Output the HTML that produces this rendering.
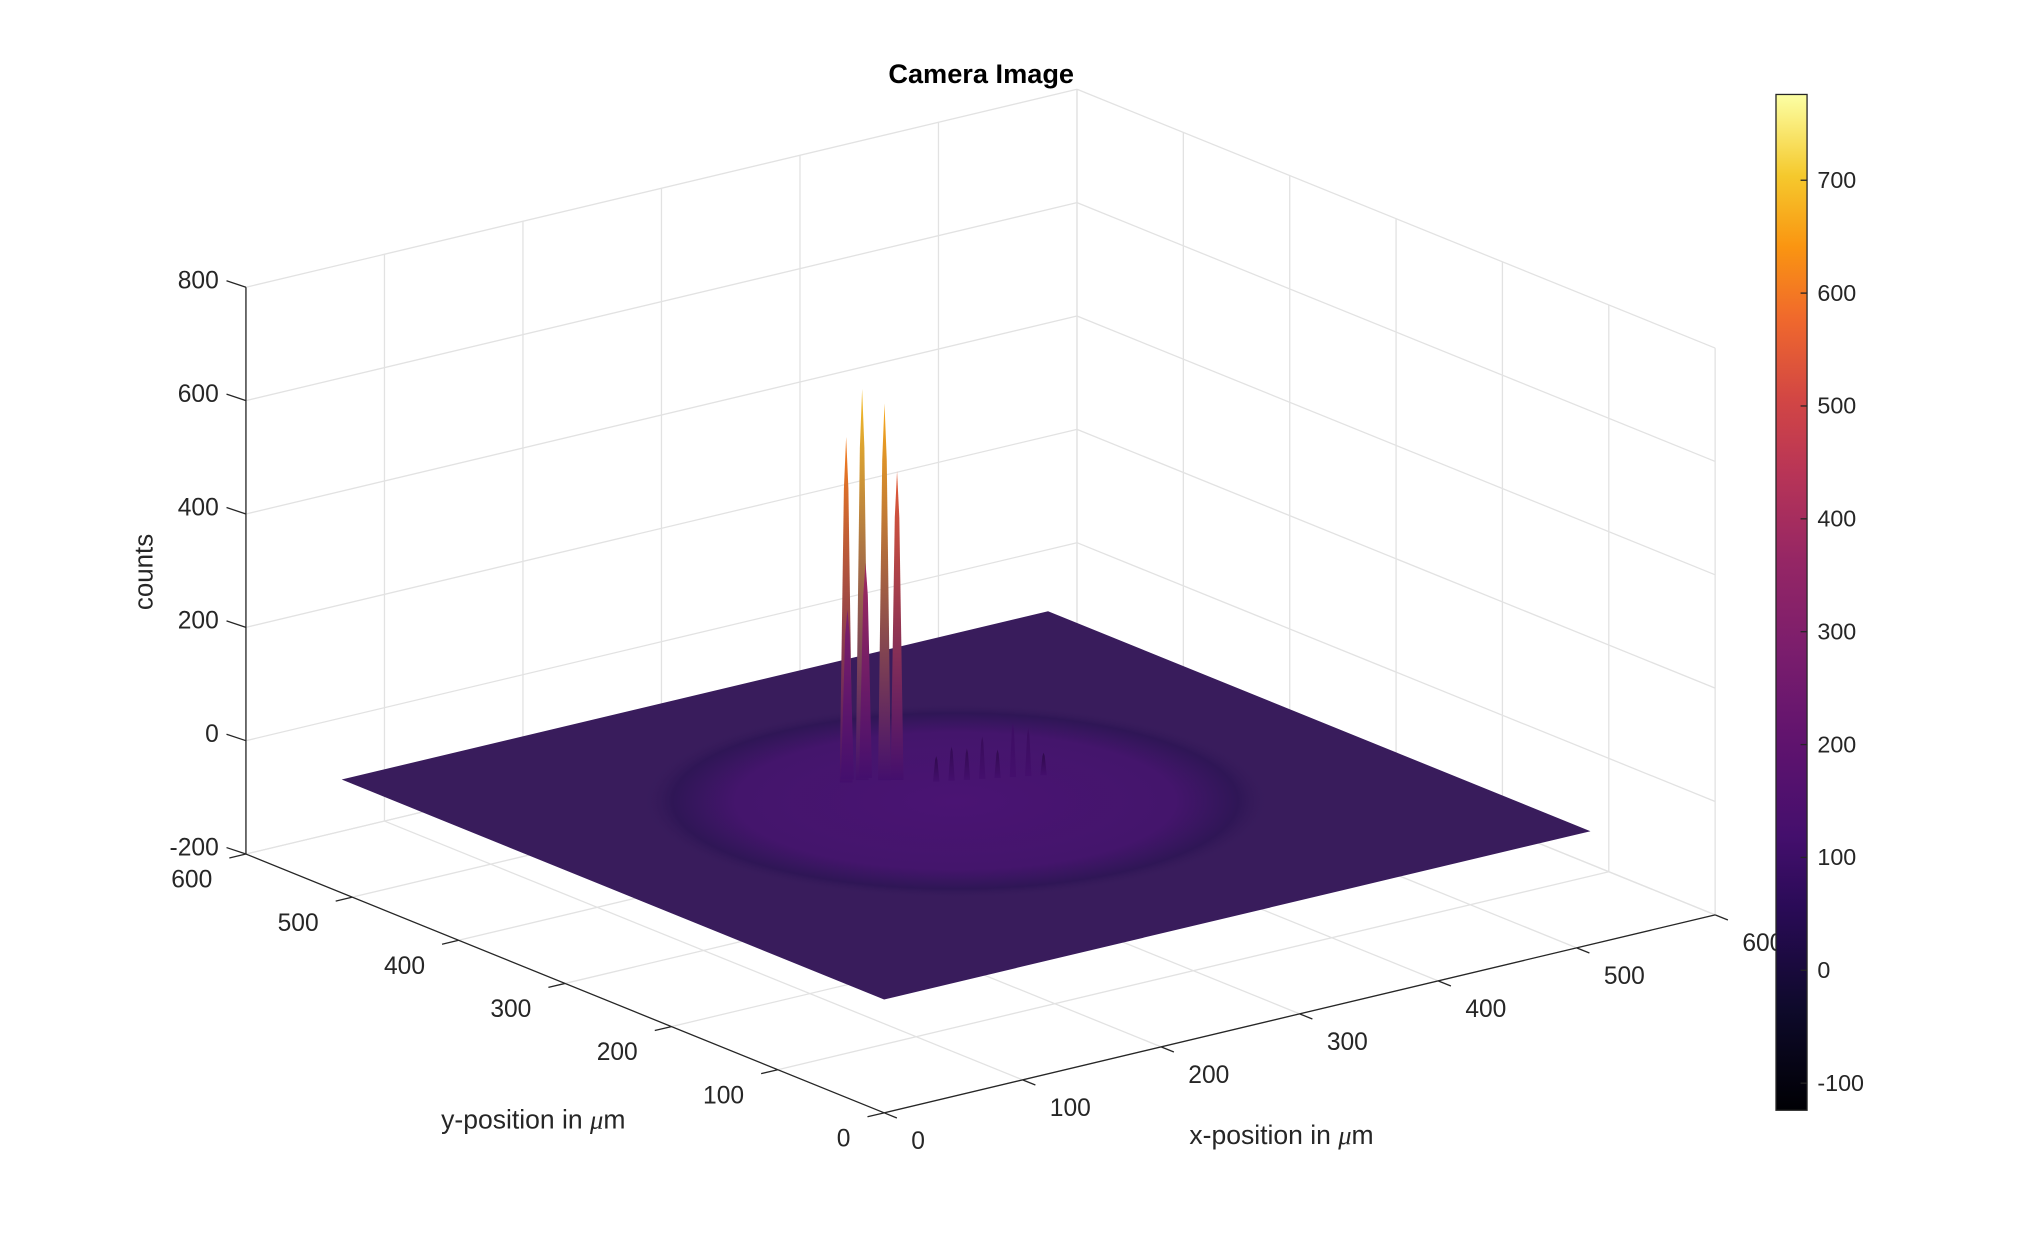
<!DOCTYPE html>
<html><head><meta charset="utf-8"><style>
html,body{margin:0;padding:0;background:#fff;}
svg{display:block;font-family:"Liberation Sans",sans-serif;}
</style></head><body>
<svg id="chart" width="2031" height="1250" viewBox="0 0 1569 966" preserveAspectRatio="none" xmlns="http://www.w3.org/2000/svg">
<defs>
<linearGradient id="cbgrad" x1="0" y1="1" x2="0" y2="0">
<stop offset="0" stop-color="#000004"/><stop offset="0.1" stop-color="#0e0a2b"/><stop offset="0.2" stop-color="#2a0b57"/>
<stop offset="0.27" stop-color="#440f6d"/><stop offset="0.36" stop-color="#5f136e"/><stop offset="0.45" stop-color="#7a1d6d"/>
<stop offset="0.54" stop-color="#952665"/><stop offset="0.63" stop-color="#b93556"/><stop offset="0.7" stop-color="#d24644"/>
<stop offset="0.78" stop-color="#f0692c"/><stop offset="0.85" stop-color="#fa9511"/><stop offset="0.92" stop-color="#f5c92d"/>
<stop offset="1" stop-color="#fcffa4"/></linearGradient>
<radialGradient id="glow" cx="0.5" cy="0.5" r="0.5">
<stop offset="0" stop-color="#4a1473"/><stop offset="0.7" stop-color="#44156c"/><stop offset="0.9" stop-color="#2f1656"/><stop offset="1" stop-color="#391c5c" stop-opacity="0"/></radialGradient>
</defs>
<g id="grid"></g>
<g id="surface"></g>
<g id="axes"></g>
<text x="758" y="64" text-anchor="middle" font-size="21" font-weight="bold" fill="#000">Camera Image</text>
<text transform="translate(118,442) rotate(-90)" text-anchor="middle" font-size="20" fill="#262626">counts</text>
<text x="412" y="872" text-anchor="middle" font-size="20.5" fill="#262626">y-position in <tspan font-style="italic" font-family="Liberation Serif">μ</tspan>m</text>
<text x="990" y="884" text-anchor="middle" font-size="20.5" fill="#262626">x-position in <tspan font-style="italic" font-family="Liberation Serif">μ</tspan>m</text>
<g id="colorbar"></g>
</svg>
<script>
const xTicks=[0,100,200,300,400,500,600];
const yTicks=[0,100,200,300,400,500,600];
const zTicks=[-200,0,200,400,600,800];
const cbTicks=[-100,0,100,200,300,400,500,600,700];
const cbRange=[-124,776];
const surfaceExtent=[0,510];
const surfaceLevel=0;
const glowCenter=[255,265];
const glowRadius=[180,180];
const peakX=[226,236,246,252,240,230];
const peakY=[330,328,320,316,330,334];
const peakZ=[610,690,665,545,380,300];
const smallX=[268,276,284,292,300,308,316,324];
const smallY=[300,296,292,288,284,280,276,272];
const smallZ=[45,60,55,75,50,95,85,40];

const NS="http://www.w3.org/2000/svg";
function P(x,y,z){return [683+x/600*642-y/600*493, 860-x/600*153-y/600*200-(z+200)*0.438];}
function mk(tag,attrs,parent){const e=document.createElementNS(NS,tag);for(const k in attrs)e.setAttribute(k,attrs[k]);parent.appendChild(e);return e;}
function line(a,b,stroke,w,parent){return mk('line',{x1:a[0],y1:a[1],x2:b[0],y2:b[1],stroke:stroke,'stroke-width':w},parent);}
const grid=document.getElementById('grid'),axes=document.getElementById('axes'),surf=document.getElementById('surface'),cb=document.getElementById('colorbar');
const gc='#e2e2e2';
xTicks.forEach(x=>{const l=line(P(x,600,-200),P(x,600,800),gc,1,grid);

});
zTicks.forEach(z=>{const l=line(P(0,600,z),P(600,600,z),gc,1,grid);


const l2=line(P(600,600,z),P(600,0,z),gc,1,grid);

});
yTicks.forEach(y=>{const l=line(P(600,y,-200),P(600,y,800),gc,1,grid);


const f=line(P(0,y,-200),P(600,y,-200),gc,1,grid);

});
xTicks.forEach(x=>{const f=line(P(x,0,-200),P(x,600,-200),gc,1,grid);

});
const ac='#262626';
let a=line(P(0,600,-200),P(0,600,800),ac,1,axes);

a=line(P(0,0,-200),P(0,600,-200),ac,1,axes);

a=line(P(0,0,-200),P(600,0,-200),ac,1,axes);

zTicks.forEach(z=>{const p=P(0,600,z);line(p,[p[0]-15,p[1]-5],ac,1,axes);
const t=mk('text',{x:p[0]-21,y:p[1]+1,'text-anchor':'end','font-size':19,fill:ac},axes);t.textContent=z;

});
yTicks.forEach(y=>{const p=P(0,y,-200),q=P(-12,y,-200);line(p,q,ac,1,axes);
const t=mk('text',{x:p[0]-26,y:p[1]+26,'text-anchor':'end','font-size':19,fill:ac},axes);t.textContent=y;

});
xTicks.forEach(x=>{const p=P(x,0,-200),q=P(x,-12,-200);line(p,q,ac,1,axes);
const t=mk('text',{x:p[0]+21,y:p[1]+28,'text-anchor':'start','font-size':19,fill:ac},axes);t.textContent=x;

});
const s0=surfaceExtent[0],s1=surfaceExtent[1],zl=surfaceLevel;
const pts=[P(s0,s0,zl),P(s1,s0,zl),P(s1,s1,zl),P(s0,s1,zl)].map(p=>p.join(',')).join(' ');
let sp=mk('polygon',{points:pts,fill:'#391c5c'},surf);

const gpts=[];for(let i=0;i<72;i++){const t=i/72*2*Math.PI;gpts.push(P(glowCenter[0]+glowRadius[0]*Math.cos(t),glowCenter[1]+glowRadius[1]*Math.sin(t),zl).join(','));}
const gp=mk('polygon',{points:gpts.join(' '),fill:'url(#glow)'},surf);

function col(z){const t=(z-cbRange[0])/(cbRange[1]-cbRange[0]);
const st=[[0,[0,0,4]],[0.27,[68,15,109]],[0.45,[122,29,109]],[0.63,[185,53,86]],[0.78,[240,105,44]],[0.85,[250,149,17]],[0.92,[245,201,45]],[1,[252,255,164]]];
for(let i=1;i<st.length;i++){if(t<=st[i][0]){const f=(t-st[i-1][0])/(st[i][0]-st[i-1][0]);const c=st[i-1][1].map((v,k)=>Math.round(v+(st[i][1][k]-v)*f));return 'rgb('+c.join(',')+')';}}return 'rgb(252,255,164)';}
function spike(x,y,z,w,name,idx){
const b=P(x,y,zl),t=P(x,y,z);
const id='pg'+name+idx;
const g=mk('linearGradient',{id:id,gradientUnits:'userSpaceOnUse',x1:b[0],y1:b[1],x2:t[0],y2:t[1]},document.querySelector('defs'));
mk('stop',{offset:0,'stop-color':col(120)},g);mk('stop',{offset:1,'stop-color':col(z)},g);
const m=[(b[0]+t[0])/2,b[1]+(t[1]-b[1])*0.85];
const poly=mk('polygon',{points:[[b[0]-w,b[1]],[m[0]-w*0.35,m[1]],[t[0],t[1]],[m[0]+w*0.35,m[1]],[b[0]+w,b[1]]].map(p=>p.join(',')).join(' '),fill:'url(#'+id+')'},surf);
return poly;}
smallX.forEach((x,i)=>{const s=spike(x,smallY[i],smallZ[i],2.5,'s',i);

});
peakX.forEach((x,i)=>{const s=spike(x,peakY[i],peakZ[i],5,'p',i);

});
const cbX=1372,cbW=24,cbTop=73,cbBot=858;
function cbY(v){return cbBot-(v-cbRange[0])/(cbRange[1]-cbRange[0])*(cbBot-cbTop);}
const r=mk('rect',{x:cbX,y:cbTop,width:cbW,height:cbBot-cbTop,fill:'url(#cbgrad)',stroke:'#262626','stroke-width':1},cb);

cbTicks.forEach(v=>{const y=cbY(v);line([cbX+cbW-5,y],[cbX+cbW,y],'#262626',1,cb);
const t=mk('text',{x:cbX+cbW+8,y:y+6,'font-size':18,fill:'#262626'},cb);t.textContent=v;

});
</script>
</body></html>
